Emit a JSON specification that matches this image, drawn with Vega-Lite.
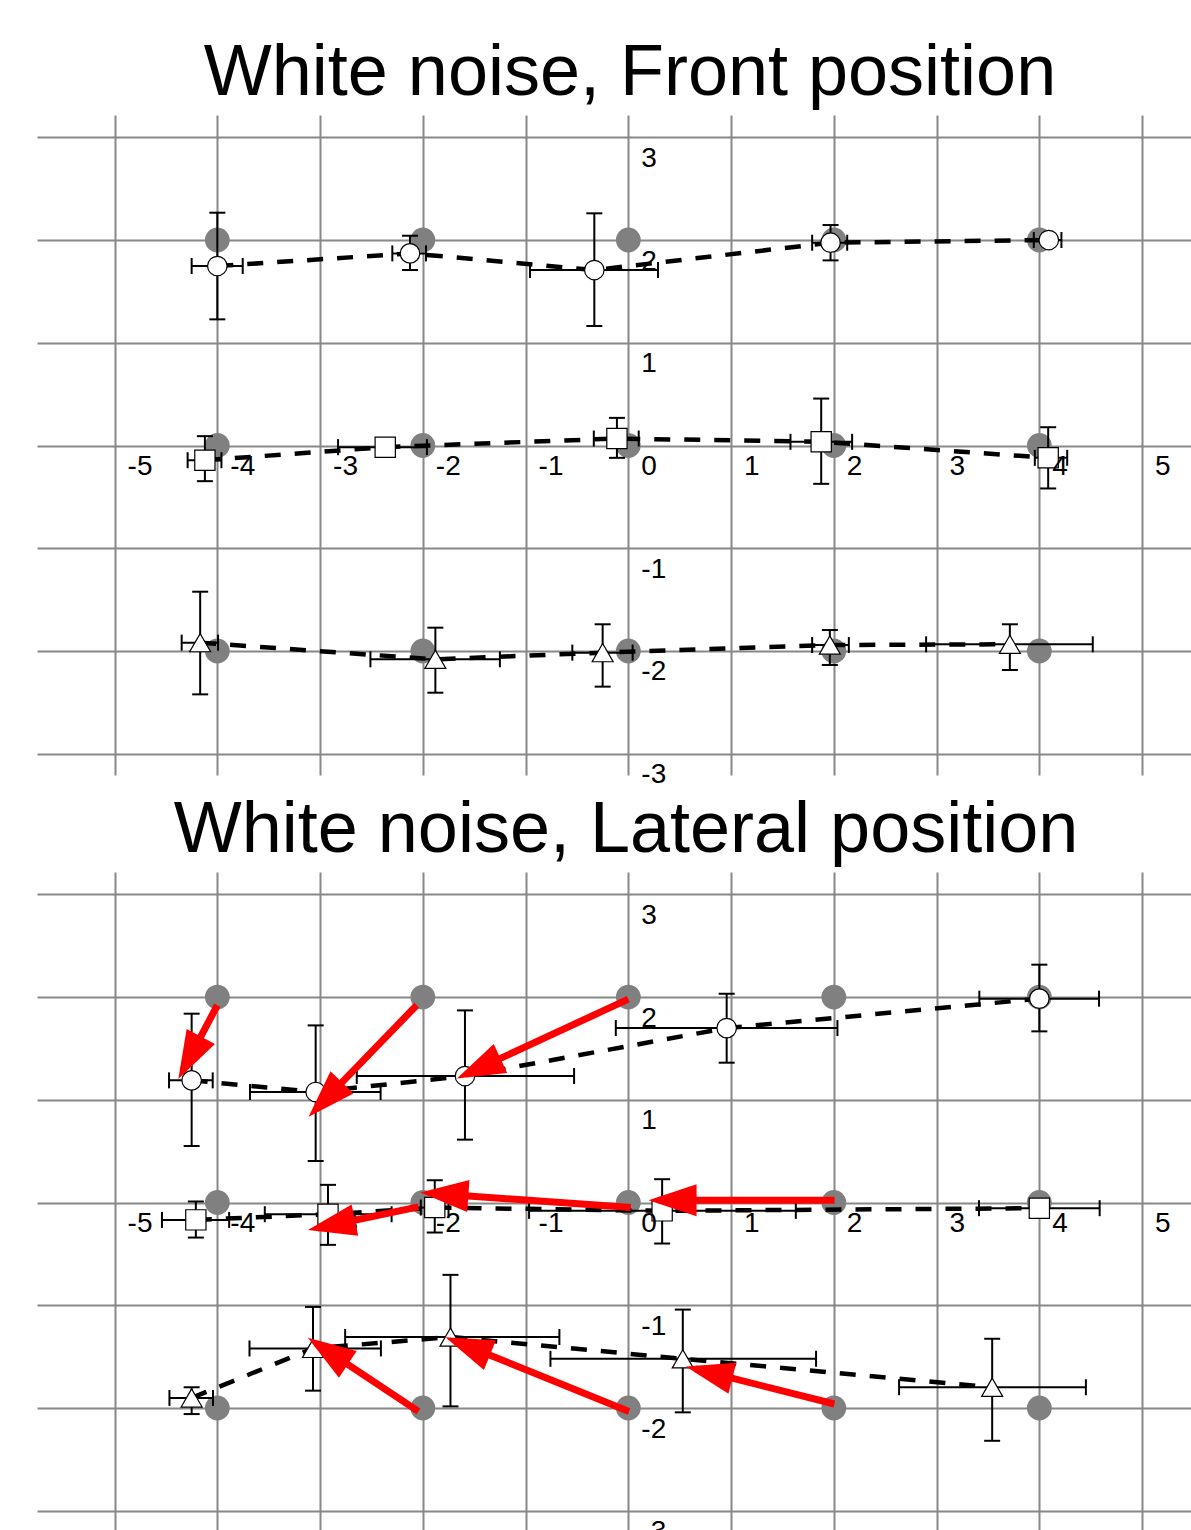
{
  "$schema": "https://vega.github.io/schema/vega-lite/v6.json",
  "background": "white",
  "padding": {"left": 37, "top": 37, "right": 0, "bottom": 0},
  "spacing": 4,
  "config": {
    "view": {"stroke": null},
    "font": "Liberation Sans",
    "title": {"fontSize": 72, "font": "Liberation Sans", "fontWeight": "normal", "color": "black", "anchor": "middle", "offset": 5},
    "axis": {"grid": true, "gridColor": "#888888", "gridWidth": 2, "gridOpacity": 1, "labels": false, "ticks": false, "domain": false}
  },
  "datasets": {
    "targets": [
      {"x": -4, "y": 2}, {"x": -2, "y": 2}, {"x": 0, "y": 2}, {"x": 2, "y": 2}, {"x": 4, "y": 2},
      {"x": -4, "y": 0}, {"x": -2, "y": 0}, {"x": 0, "y": 0}, {"x": 2, "y": 0}, {"x": 4, "y": 0},
      {"x": -4, "y": -2}, {"x": -2, "y": -2}, {"x": 0, "y": -2}, {"x": 2, "y": -2}, {"x": 4, "y": -2}
    ],
    "labels": [
      {"x": -5, "y": 0, "t": "-5"}, {"x": -4, "y": 0, "t": "-4"}, {"x": -3, "y": 0, "t": "-3"},
      {"x": -2, "y": 0, "t": "-2"}, {"x": -1, "y": 0, "t": "-1"}, {"x": 0, "y": 0, "t": "0"},
      {"x": 1, "y": 0, "t": "1"}, {"x": 2, "y": 0, "t": "2"}, {"x": 3, "y": 0, "t": "3"},
      {"x": 4, "y": 0, "t": "4"}, {"x": 5, "y": 0, "t": "5"},
      {"x": 0, "y": 3, "t": "3"}, {"x": 0, "y": 2, "t": "2"}, {"x": 0, "y": 1, "t": "1"},
      {"x": 0, "y": -1, "t": "-1"}, {"x": 0, "y": -2, "t": "-2"}, {"x": 0, "y": -3, "t": "-3"}
    ],
    "front": [
      {"row": "top", "x": -4.0, "y": 1.747, "xlo": -4.25, "xhi": -3.753, "ylo": 1.228, "yhi": 2.266},
      {"row": "top", "x": -2.125, "y": 1.870, "xlo": -2.297, "xhi": -1.969, "ylo": 1.708, "yhi": 2.042},
      {"row": "top", "x": -0.331, "y": 1.708, "xlo": -0.957, "xhi": 0.289, "ylo": 1.163, "yhi": 2.260},
      {"row": "top", "x": 1.968, "y": 1.974, "xlo": 1.789, "xhi": 2.130, "ylo": 1.802, "yhi": 2.146},
      {"row": "top", "x": 4.092, "y": 2.0, "xlo": 3.946, "xhi": 4.215, "ylo": 1.97, "yhi": 2.03},
      {"row": "mid", "x": -4.121, "y": -0.143, "xlo": -4.289, "xhi": -3.960, "ylo": -0.347, "yhi": 0.091},
      {"row": "mid", "x": -2.366, "y": -0.016, "xlo": -2.825, "xhi": -1.960, "ylo": -0.04, "yhi": 0.01},
      {"row": "mid", "x": -0.111, "y": 0.068, "xlo": -0.336, "xhi": 0.101, "ylo": -0.120, "yhi": 0.269},
      {"row": "mid", "x": 1.877, "y": 0.036, "xlo": 1.578, "xhi": 2.178, "ylo": -0.373, "yhi": 0.457},
      {"row": "mid", "x": 4.086, "y": -0.12, "xlo": 3.956, "xhi": 4.271, "ylo": -0.418, "yhi": 0.178},
      {"row": "bottom", "x": -4.167, "y": -1.919, "xlo": -4.347, "xhi": -3.993, "ylo": -2.422, "yhi": -1.423},
      {"row": "bottom", "x": -1.878, "y": -2.081, "xlo": -2.510, "xhi": -1.250, "ylo": -2.406, "yhi": -1.773},
      {"row": "bottom", "x": -0.25, "y": -2.016, "xlo": -0.545, "xhi": 0.042, "ylo": -2.347, "yhi": -1.740},
      {"row": "bottom", "x": 1.961, "y": -1.942, "xlo": 1.789, "xhi": 2.146, "ylo": -2.136, "yhi": -1.796},
      {"row": "bottom", "x": 3.713, "y": -1.935, "xlo": 2.898, "xhi": 4.520, "ylo": -2.185, "yhi": -1.740}
    ],
    "lateral": [
      {"row": "top", "x": -4.25, "y": 1.189, "xlo": -4.470, "xhi": -4.045, "ylo": 0.550, "yhi": 1.838},
      {"row": "top", "x": -3.043, "y": 1.076, "xlo": -3.682, "xhi": -2.411, "ylo": 0.404, "yhi": 1.724},
      {"row": "top", "x": -1.590, "y": 1.231, "xlo": -2.643, "xhi": -0.528, "ylo": 0.612, "yhi": 1.870},
      {"row": "top", "x": 0.957, "y": 1.698, "xlo": -0.122, "xhi": 2.035, "ylo": 1.361, "yhi": 2.032},
      {"row": "top", "x": 4.0, "y": 1.984, "xlo": 3.416, "xhi": 4.581, "ylo": 1.666, "yhi": 2.315},
      {"row": "mid", "x": -4.209, "y": -0.169, "xlo": -4.539, "xhi": -3.885, "ylo": -0.341, "yhi": 0.010},
      {"row": "mid", "x": -2.923, "y": -0.114, "xlo": -3.538, "xhi": -2.304, "ylo": -0.412, "yhi": 0.172},
      {"row": "mid", "x": -1.884, "y": -0.049, "xlo": -2.02, "xhi": -1.75, "ylo": -0.292, "yhi": 0.217},
      {"row": "mid", "x": 0.329, "y": -0.081, "xlo": -0.966, "xhi": 1.63, "ylo": -0.399, "yhi": 0.227},
      {"row": "mid", "x": 4.0, "y": -0.055, "xlo": 3.413, "xhi": 4.587, "ylo": -0.09, "yhi": -0.02},
      {"row": "bottom", "x": -4.25, "y": -1.902, "xlo": -4.466, "xhi": -4.042, "ylo": -2.059, "yhi": -1.798},
      {"row": "bottom", "x": -3.069, "y": -1.420, "xlo": -3.687, "xhi": -2.408, "ylo": -1.831, "yhi": -1.016},
      {"row": "bottom", "x": -1.731, "y": -1.309, "xlo": -2.756, "xhi": -0.671, "ylo": -1.984, "yhi": -0.704},
      {"row": "bottom", "x": 0.530, "y": -1.521, "xlo": -0.758, "xhi": 1.827, "ylo": -2.042, "yhi": -1.042},
      {"row": "bottom", "x": 3.541, "y": -1.798, "xlo": 2.635, "xhi": 4.453, "ylo": -2.319, "yhi": -1.326}
    ],
    "arrows": [
      {"x0": -4.0, "y0": 1.92, "x1": -4.334, "y1": 1.288},
      {"x0": -2.06, "y0": 1.92, "x1": -3.044, "y1": 0.904},
      {"x0": 0.0, "y0": 1.98, "x1": -1.58, "y1": 1.247},
      {"x0": 2.007, "y0": 0.023, "x1": 0.294, "y1": 0.023},
      {"x0": 0.024, "y0": -0.049, "x1": -1.926, "y1": 0.090},
      {"x0": -2.043, "y0": -0.042, "x1": -3.023, "y1": -0.248},
      {"x0": -2.043, "y0": -2.033, "x1": -3.038, "y1": -1.371},
      {"x0": 0.007, "y0": -2.033, "x1": -1.690, "y1": -1.347},
      {"x0": 2.005, "y0": -1.961, "x1": 0.654, "y1": -1.620}
    ]
  },
  "vconcat": [
    {
      "title": {"text": "White noise, Front position", "dx": 16},
      "width": 1154,
      "height": 660,
      "layer": [
        {
          "data": {"name": "targets"},
          "mark": {"type": "point", "shape": "circle", "filled": true, "color": "#808080", "size": 616, "opacity": 1},
          "encoding": {
            "x": {"field": "x", "type": "quantitative", "scale": {"domain": [-5.755, 5.476], "nice": false, "zero": false}, "axis": {"values": [-5, -4, -3, -2, -1, 0, 1, 2, 3, 4, 5], "title": null}},
            "y": {"field": "y", "type": "quantitative", "scale": {"domain": [-3.207, 3.217], "nice": false, "zero": false}, "axis": {"values": [-3, -2, -1, 0, 1, 2, 3], "title": null}}
          }
        },
        {
          "data": {"name": "front"},
          "mark": {"type": "rule", "color": "black", "strokeWidth": 2},
          "encoding": {
            "x": {"field": "x", "type": "quantitative", "axis": {"values": [-5, -4, -3, -2, -1, 0, 1, 2, 3, 4, 5], "title": null}},
            "y": {"field": "ylo", "type": "quantitative", "axis": {"values": [-3, -2, -1, 0, 1, 2, 3], "title": null}},
            "y2": {"field": "yhi"}
          }
        },
        {
          "data": {"name": "front"},
          "mark": {"type": "rule", "color": "black", "strokeWidth": 2},
          "encoding": {
            "x": {"field": "xlo", "type": "quantitative", "axis": {"values": [-5, -4, -3, -2, -1, 0, 1, 2, 3, 4, 5], "title": null}},
            "x2": {"field": "xhi"},
            "y": {"field": "y", "type": "quantitative", "axis": {"values": [-3, -2, -1, 0, 1, 2, 3], "title": null}}
          }
        },
        {
          "data": {"name": "front"},
          "mark": {"type": "rule", "color": "black", "strokeWidth": 2, "xOffset": -8, "x2Offset": 8},
          "encoding": {
            "x": {"field": "x", "type": "quantitative", "axis": {"values": [-5, -4, -3, -2, -1, 0, 1, 2, 3, 4, 5], "title": null}},
            "x2": {"field": "x"},
            "y": {"field": "ylo", "type": "quantitative", "axis": {"values": [-3, -2, -1, 0, 1, 2, 3], "title": null}}
          }
        },
        {
          "data": {"name": "front"},
          "mark": {"type": "rule", "color": "black", "strokeWidth": 2, "xOffset": -8, "x2Offset": 8},
          "encoding": {
            "x": {"field": "x", "type": "quantitative", "axis": {"values": [-5, -4, -3, -2, -1, 0, 1, 2, 3, 4, 5], "title": null}},
            "x2": {"field": "x"},
            "y": {"field": "yhi", "type": "quantitative", "axis": {"values": [-3, -2, -1, 0, 1, 2, 3], "title": null}}
          }
        },
        {
          "data": {"name": "front"},
          "mark": {"type": "rule", "color": "black", "strokeWidth": 2, "yOffset": -8, "y2Offset": 8},
          "encoding": {
            "x": {"field": "xlo", "type": "quantitative", "axis": {"values": [-5, -4, -3, -2, -1, 0, 1, 2, 3, 4, 5], "title": null}},
            "y": {"field": "y", "type": "quantitative", "axis": {"values": [-3, -2, -1, 0, 1, 2, 3], "title": null}},
            "y2": {"field": "y"}
          }
        },
        {
          "data": {"name": "front"},
          "mark": {"type": "rule", "color": "black", "strokeWidth": 2, "yOffset": -8, "y2Offset": 8},
          "encoding": {
            "x": {"field": "xhi", "type": "quantitative", "axis": {"values": [-5, -4, -3, -2, -1, 0, 1, 2, 3, 4, 5], "title": null}},
            "y": {"field": "y", "type": "quantitative", "axis": {"values": [-3, -2, -1, 0, 1, 2, 3], "title": null}},
            "y2": {"field": "y"}
          }
        },
        {
          "data": {"name": "front"},
          "mark": {"type": "line", "color": "black", "strokeWidth": 4.5, "strokeDash": [16, 14]},
          "encoding": {
            "x": {"field": "x", "type": "quantitative", "axis": {"values": [-5, -4, -3, -2, -1, 0, 1, 2, 3, 4, 5], "title": null}},
            "y": {"field": "y", "type": "quantitative", "axis": {"values": [-3, -2, -1, 0, 1, 2, 3], "title": null}},
            "detail": {"field": "row"}
          }
        },
        {
          "data": {"name": "front"},
          "mark": {"type": "point", "filled": true, "fill": "white", "stroke": "black", "strokeWidth": 1.2, "opacity": 1},
          "encoding": {
            "x": {"field": "x", "type": "quantitative", "axis": {"values": [-5, -4, -3, -2, -1, 0, 1, 2, 3, 4, 5], "title": null}},
            "y": {"field": "y", "type": "quantitative", "axis": {"values": [-3, -2, -1, 0, 1, 2, 3], "title": null}},
            "shape": {"field": "row", "type": "nominal", "scale": {"domain": ["top", "mid", "bottom"], "range": ["circle", "square", "triangle-up"]}, "legend": null},
            "size": {"field": "row", "type": "ordinal", "scale": {"domain": ["top", "mid", "bottom"], "range": [380, 441, 529]}, "legend": null}
          }
        },
        {
          "data": {"name": "labels"},
          "mark": {"type": "text", "align": "left", "baseline": "alphabetic", "dx": 13, "dy": 29.5, "fontSize": 28, "color": "black", "font": "Liberation Sans"},
          "encoding": {
            "x": {"field": "x", "type": "quantitative", "axis": {"values": [-5, -4, -3, -2, -1, 0, 1, 2, 3, 4, 5], "title": null}},
            "y": {"field": "y", "type": "quantitative", "axis": {"values": [-3, -2, -1, 0, 1, 2, 3], "title": null}},
            "text": {"field": "t"}
          }
        }
      ]
    },
    {
      "title": {"text": "White noise, Lateral position", "dx": 12},
      "width": 1154,
      "height": 659,
      "layer": [
        {
          "data": {"name": "targets"},
          "mark": {"type": "point", "shape": "circle", "filled": true, "color": "#808080", "size": 616, "opacity": 1},
          "encoding": {
            "x": {"field": "x", "type": "quantitative", "scale": {"domain": [-5.755, 5.476], "nice": false, "zero": false}, "axis": {"values": [-5, -4, -3, -2, -1, 0, 1, 2, 3, 4, 5], "title": null}},
            "y": {"field": "y", "type": "quantitative", "scale": {"domain": [-3.197, 3.217], "nice": false, "zero": false}, "axis": {"values": [-3, -2, -1, 0, 1, 2, 3], "title": null}}
          }
        },
        {
          "data": {"name": "lateral"},
          "mark": {"type": "rule", "color": "black", "strokeWidth": 2},
          "encoding": {
            "x": {"field": "x", "type": "quantitative", "axis": {"values": [-5, -4, -3, -2, -1, 0, 1, 2, 3, 4, 5], "title": null}},
            "y": {"field": "ylo", "type": "quantitative", "axis": {"values": [-3, -2, -1, 0, 1, 2, 3], "title": null}},
            "y2": {"field": "yhi"}
          }
        },
        {
          "data": {"name": "lateral"},
          "mark": {"type": "rule", "color": "black", "strokeWidth": 2},
          "encoding": {
            "x": {"field": "xlo", "type": "quantitative", "axis": {"values": [-5, -4, -3, -2, -1, 0, 1, 2, 3, 4, 5], "title": null}},
            "x2": {"field": "xhi"},
            "y": {"field": "y", "type": "quantitative", "axis": {"values": [-3, -2, -1, 0, 1, 2, 3], "title": null}}
          }
        },
        {
          "data": {"name": "lateral"},
          "mark": {"type": "rule", "color": "black", "strokeWidth": 2, "xOffset": -8, "x2Offset": 8},
          "encoding": {
            "x": {"field": "x", "type": "quantitative", "axis": {"values": [-5, -4, -3, -2, -1, 0, 1, 2, 3, 4, 5], "title": null}},
            "x2": {"field": "x"},
            "y": {"field": "ylo", "type": "quantitative", "axis": {"values": [-3, -2, -1, 0, 1, 2, 3], "title": null}}
          }
        },
        {
          "data": {"name": "lateral"},
          "mark": {"type": "rule", "color": "black", "strokeWidth": 2, "xOffset": -8, "x2Offset": 8},
          "encoding": {
            "x": {"field": "x", "type": "quantitative", "axis": {"values": [-5, -4, -3, -2, -1, 0, 1, 2, 3, 4, 5], "title": null}},
            "x2": {"field": "x"},
            "y": {"field": "yhi", "type": "quantitative", "axis": {"values": [-3, -2, -1, 0, 1, 2, 3], "title": null}}
          }
        },
        {
          "data": {"name": "lateral"},
          "mark": {"type": "rule", "color": "black", "strokeWidth": 2, "yOffset": -8, "y2Offset": 8},
          "encoding": {
            "x": {"field": "xlo", "type": "quantitative", "axis": {"values": [-5, -4, -3, -2, -1, 0, 1, 2, 3, 4, 5], "title": null}},
            "y": {"field": "y", "type": "quantitative", "axis": {"values": [-3, -2, -1, 0, 1, 2, 3], "title": null}},
            "y2": {"field": "y"}
          }
        },
        {
          "data": {"name": "lateral"},
          "mark": {"type": "rule", "color": "black", "strokeWidth": 2, "yOffset": -8, "y2Offset": 8},
          "encoding": {
            "x": {"field": "xhi", "type": "quantitative", "axis": {"values": [-5, -4, -3, -2, -1, 0, 1, 2, 3, 4, 5], "title": null}},
            "y": {"field": "y", "type": "quantitative", "axis": {"values": [-3, -2, -1, 0, 1, 2, 3], "title": null}},
            "y2": {"field": "y"}
          }
        },
        {
          "data": {"name": "lateral"},
          "mark": {"type": "line", "color": "black", "strokeWidth": 4.5, "strokeDash": [16, 14]},
          "encoding": {
            "x": {"field": "x", "type": "quantitative", "axis": {"values": [-5, -4, -3, -2, -1, 0, 1, 2, 3, 4, 5], "title": null}},
            "y": {"field": "y", "type": "quantitative", "axis": {"values": [-3, -2, -1, 0, 1, 2, 3], "title": null}},
            "detail": {"field": "row"}
          }
        },
        {
          "data": {"name": "lateral"},
          "mark": {"type": "point", "filled": true, "fill": "white", "stroke": "black", "strokeWidth": 1.2, "opacity": 1},
          "encoding": {
            "x": {"field": "x", "type": "quantitative", "axis": {"values": [-5, -4, -3, -2, -1, 0, 1, 2, 3, 4, 5], "title": null}},
            "y": {"field": "y", "type": "quantitative", "axis": {"values": [-3, -2, -1, 0, 1, 2, 3], "title": null}},
            "shape": {"field": "row", "type": "nominal", "scale": {"domain": ["top", "mid", "bottom"], "range": ["circle", "square", "triangle-up"]}, "legend": null},
            "size": {"field": "row", "type": "ordinal", "scale": {"domain": ["top", "mid", "bottom"], "range": [380, 441, 529]}, "legend": null}
          }
        },
        {
          "data": {"name": "labels"},
          "mark": {"type": "text", "align": "left", "baseline": "alphabetic", "dx": 13, "dy": 29.5, "fontSize": 28, "color": "black", "font": "Liberation Sans", "clip": true},
          "encoding": {
            "x": {"field": "x", "type": "quantitative", "axis": {"values": [-5, -4, -3, -2, -1, 0, 1, 2, 3, 4, 5], "title": null}},
            "y": {"field": "y", "type": "quantitative", "axis": {"values": [-3, -2, -1, 0, 1, 2, 3], "title": null}},
            "text": {"field": "t"}
          }
        },
        {
          "data": {"name": "arrows"},
          "mark": {"type": "rule", "color": "#ff0000", "strokeWidth": 7},
          "encoding": {
            "x": {"field": "x0", "type": "quantitative", "axis": {"values": [-5, -4, -3, -2, -1, 0, 1, 2, 3, 4, 5], "title": null}},
            "y": {"field": "y0", "type": "quantitative", "axis": {"values": [-3, -2, -1, 0, 1, 2, 3], "title": null}},
            "x2": {"field": "x1"},
            "y2": {"field": "y1"}
          }
        },
        {
          "data": {"name": "arrows"},
          "transform": [{"calculate": "atan2(datum.x1 - datum.x0, datum.y1 - datum.y0) * 180 / PI", "as": "ang"}],
          "mark": {"type": "point", "shape": "M0,-0.25L0.4,0.95L-0.4,0.95Z", "filled": true, "color": "#ff0000", "size": 6400, "opacity": 1, "strokeWidth": 0},
          "encoding": {
            "x": {"field": "x1", "type": "quantitative", "axis": {"values": [-5, -4, -3, -2, -1, 0, 1, 2, 3, 4, 5], "title": null}},
            "y": {"field": "y1", "type": "quantitative", "axis": {"values": [-3, -2, -1, 0, 1, 2, 3], "title": null}},
            "angle": {"field": "ang", "type": "quantitative", "scale": null}
          }
        }
      ]
    }
  ]
}
